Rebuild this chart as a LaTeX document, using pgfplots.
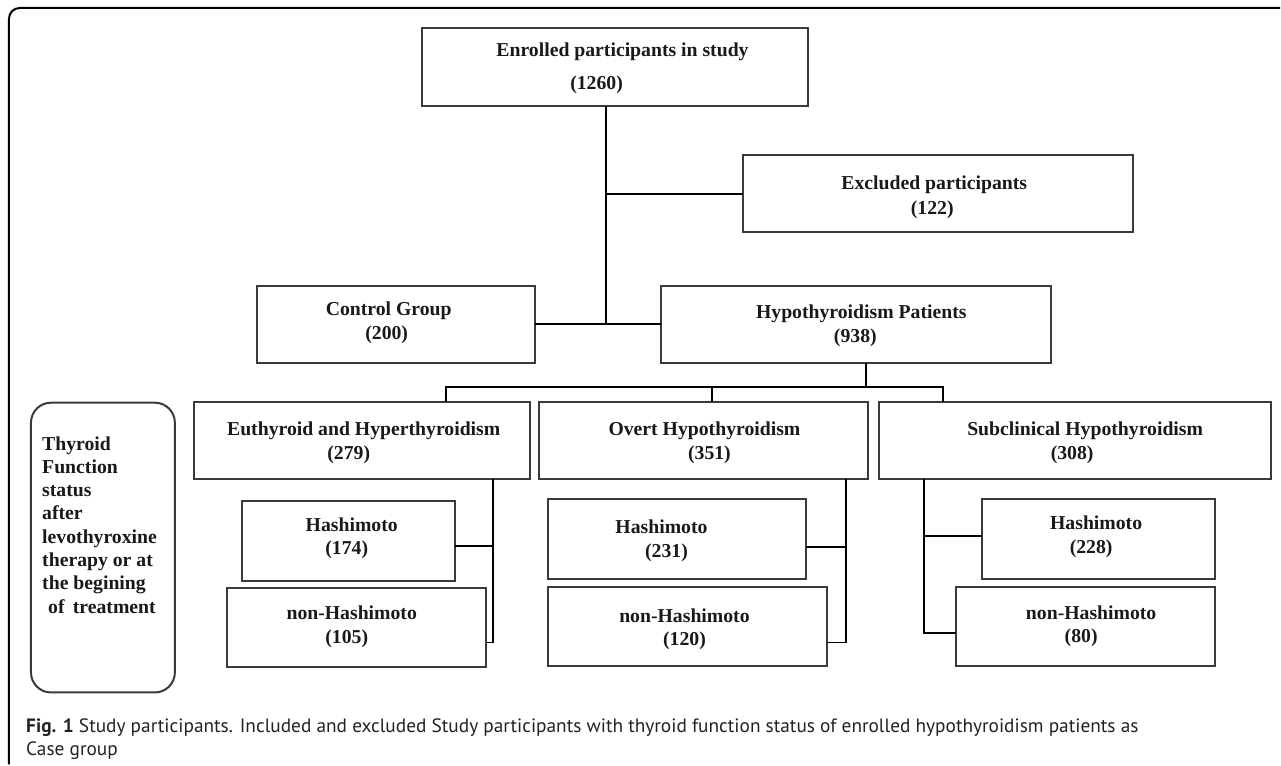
\documentclass[border=0pt]{standalone}
\usepackage{pgfplots}
\pgfplotsset{compat=1.18}
\usepackage{fontspec}
\setmainfont{Liberation Serif}
\newfontfamily\capfont{PT Sans}
\definecolor{boxc}{HTML}{3A3A3A}
\definecolor{capc}{HTML}{222222}
\tikzset{
  bx/.style={draw=boxc, line width=1.5pt, line join=miter},
  cn/.style={black, line width=1.5pt, no markers},
  tx/.style={inner sep=0pt, anchor=base, font=\fontsize{14.8}{17.5}\selectfont\bfseries, text=black!90},
  lt/.style={inner sep=0pt, anchor=base west, font=\fontsize{14.8}{17.5}\selectfont\bfseries, text=black!90},
}
\begin{document}
\begin{tikzpicture}
\begin{axis}[hide axis, scale only axis, width=960.75pt, height=573.75pt,
  xmin=0, xmax=1281, ymin=0, ymax=765, y dir=reverse, clip=false,
  enlargelimits=false]
\path (0,0) rectangle (1281,765);
% outer frame
\draw[line width=1.5pt, black, rounded corners=8pt] (9,765) -- (9,8) -- (1281,8);
% boxes
\addplot[bx] coordinates {(422,28) (809,28) (809,106) (422,106)} -- cycle;
\addplot[bx] coordinates {(744,155) (1134,155) (1134,232) (744,232)} -- cycle;
\addplot[bx] coordinates {(257,286) (535,286) (535,363) (257,363)} -- cycle;
\addplot[bx] coordinates {(662,286) (1052,286) (1052,363) (662,363)} -- cycle;
\addplot[bx] coordinates {(194,402) (530,402) (530,479) (194,479)} -- cycle;
\addplot[bx] coordinates {(539,402) (869,402) (869,479) (539,479)} -- cycle;
\addplot[bx] coordinates {(880,402) (1272,402) (1272,479) (880,479)} -- cycle;
\addplot[bx] coordinates {(242,501) (455,501) (455,581) (242,581)} -- cycle;
\addplot[bx] coordinates {(227,588) (486,588) (486,668) (227,668)} -- cycle;
\addplot[bx] coordinates {(548,499) (807,499) (807,579) (548,579)} -- cycle;
\addplot[bx] coordinates {(548,587) (828,587) (828,667) (548,667)} -- cycle;
\addplot[bx] coordinates {(983,499) (1216,499) (1216,579) (983,579)} -- cycle;
\addplot[bx] coordinates {(957,587) (1216,587) (1216,667) (957,667)} -- cycle;
\draw[draw=boxc, line width=1.5pt, rounded corners=15pt] (31,403) rectangle (175,693);
% connectors
\addplot[cn] coordinates {(606,106) (606,324)};
\addplot[cn] coordinates {(606,194) (744,194)};
\addplot[cn] coordinates {(535,324) (662,324)};
\addplot[cn] coordinates {(867,363) (867,387)};
\addplot[cn] coordinates {(446,402) (446,387) (944,387) (944,402)};
\addplot[cn] coordinates {(713,387) (713,402)};
\addplot[cn] coordinates {(486,643) (493,643) (493,479)};
\addplot[cn] coordinates {(455,546) (493,546)};
\addplot[cn] coordinates {(828,643) (847,643) (847,479)};
\addplot[cn] coordinates {(807,547) (847,547)};
\addplot[cn] coordinates {(957,633) (925,633) (925,479)};
\addplot[cn] coordinates {(925,536) (983,536)};
% texts (base y = cap center + 6.5)
\node[tx] at (623,56.5) {Enrolled participants in study};
\node[tx] at (597,89.5) {(1260)};
\node[tx] at (935,189.5) {Excluded participants};
\node[tx] at (933,214.5) {(122)};
\node[tx] at (389,315.5) {Control Group};
\node[tx] at (387,339.5) {(200)};
\node[tx] at (862,318.5) {Hypothyroidism Patients};
\node[tx] at (856,342.5) {(938)};
\node[tx] at (364,435.5) {Euthyroid and Hyperthyroidism};
\node[tx] at (349,459.5) {(279)};
\node[tx] at (705,435.5) {Overt Hypothyroidism};
\node[tx] at (710,459.5) {(351)};
\node[tx] at (1086,435.5) {Subclinical Hypothyroidism};
\node[tx] at (1073,459.5) {(308)};
\node[tx] at (352,531.5) {Hashimoto};
\node[tx] at (347,554.5) {(174)};
\node[tx] at (352,619.5) {non-Hashimoto};
\node[tx] at (347,644.5) {(105)};
\node[tx] at (662,533.5) {Hashimoto};
\node[tx] at (667,557.5) {(231)};
\node[tx] at (685,622.5) {non-Hashimoto};
\node[tx] at (685,646.5) {(120)};
\node[tx] at (1097,529.5) {Hashimoto};
\node[tx] at (1092,553.5) {(228)};
\node[tx] at (1092,619.5) {non-Hashimoto};
\node[tx] at (1082,643.5) {(80)};
% left side text
\node[lt] at (42,450.5) {Thyroid};
\node[lt] at (42,473.8) {Function};
\node[lt] at (42,497.1) {status};
\node[lt] at (42,520.4) {after};
\node[lt] at (42,543.7) {levothyroxine};
\node[lt] at (42,567.0) {therapy or at};
\node[lt] at (42,590.3) {the begining};
\node[lt] at (48,613.6) {of\ \,treatment};
% caption
\node[inner sep=0pt, anchor=base west, font=\capfont\fontsize{14.5}{17}\selectfont, text=capc] at (26,733) {\textbf{Fig. 1} Study participants. Included and excluded Study participants with thyroid function status of enrolled hypothyroidism patients as};
\node[inner sep=0pt, anchor=base west, font=\capfont\fontsize{14.5}{17}\selectfont, text=capc] at (26,756) {Case group};
\end{axis}
\end{tikzpicture}
\end{document}
